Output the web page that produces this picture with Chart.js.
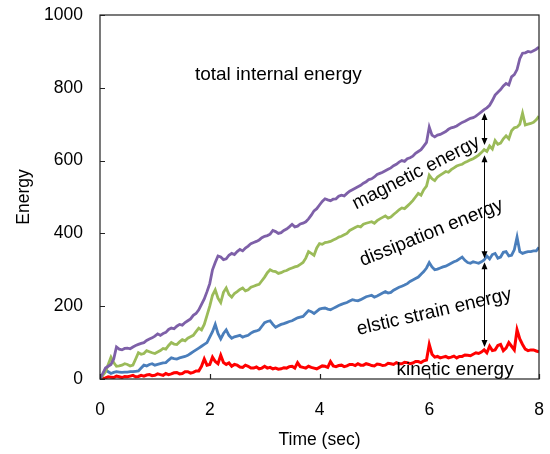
<!DOCTYPE html>
<html>
<head>
<meta charset="utf-8">
<script src="https://cdn.jsdelivr.net/npm/chart.js@4.4.1/dist/chart.umd.min.js"></script>
<style>
  html, body { margin: 0; padding: 0; background: #fff; }
  #wrap { width: 550px; height: 454px; }
</style>
</head>
<body>
<div id="wrap"><canvas id="energy-chart" width="550" height="454"></canvas></div>
<script>
// time axis (sec), every 0.05 s
const times = [
  0, 0.05, 0.1, 0.15, 0.2, 0.25, 0.3, 0.35, 0.4, 0.45, 0.5, 0.55, 0.6, 0.65, 0.7, 0.75, 0.8, 0.85, 0.9, 0.95,
  1, 1.05, 1.1, 1.15, 1.2, 1.25, 1.3, 1.35, 1.4, 1.45, 1.5, 1.55, 1.6, 1.65, 1.7, 1.75, 1.8, 1.85, 1.9, 1.95,
  2, 2.05, 2.1, 2.15, 2.2, 2.25, 2.3, 2.35, 2.4, 2.45, 2.5, 2.55, 2.6, 2.65, 2.7, 2.75, 2.8, 2.85, 2.9, 2.95,
  3, 3.05, 3.1, 3.15, 3.2, 3.25, 3.3, 3.35, 3.4, 3.45, 3.5, 3.55, 3.6, 3.65, 3.7, 3.75, 3.8, 3.85, 3.9, 3.95,
  4, 4.05, 4.1, 4.15, 4.2, 4.25, 4.3, 4.35, 4.4, 4.45, 4.5, 4.55, 4.6, 4.65, 4.7, 4.75, 4.8, 4.85, 4.9, 4.95,
  5, 5.05, 5.1, 5.15, 5.2, 5.25, 5.3, 5.35, 5.4, 5.45, 5.5, 5.55, 5.6, 5.65, 5.7, 5.75, 5.8, 5.85, 5.9, 5.95,
  6, 6.05, 6.1, 6.15, 6.2, 6.25, 6.3, 6.35, 6.4, 6.45, 6.5, 6.55, 6.6, 6.65, 6.7, 6.75, 6.8, 6.85, 6.9, 6.95,
  7, 7.05, 7.1, 7.15, 7.2, 7.25, 7.3, 7.35, 7.4, 7.45, 7.5, 7.55, 7.6, 7.65, 7.7, 7.75, 7.8, 7.85, 7.9, 7.95,
  8
];

// total internal energy (purple)
const totalEnergy = [
  0, 15, 30, 35, 40, 55, 88, 82, 80, 84, 85, 83, 88, 92, 95, 98, 100, 106, 110, 113,
  118, 124, 120, 125, 128, 136, 140, 138, 145, 150, 148, 155, 160, 165, 175, 180, 190, 205, 220, 240,
  262, 300, 320, 338, 335, 328, 330, 340, 345, 342, 350, 356, 352, 360, 365, 372, 375, 378, 382, 388,
  392, 394, 398, 408, 405, 400, 402, 408, 412, 418, 425, 418, 420, 426, 428, 432, 440, 450, 462, 468,
  478, 488, 495, 492, 490, 494, 495, 502, 505, 503, 510, 516, 520, 524, 528, 532, 538, 542, 548, 550,
  555, 562, 565, 568, 572, 576, 580, 586, 590, 596, 600, 598, 605, 608, 612, 620, 625, 630, 640, 650,
  692, 670, 665, 670, 672, 676, 680, 686, 690, 692, 695, 700, 705, 708, 712, 716, 718, 722, 728, 734,
  740, 745, 752, 765, 780, 788, 795, 805, 812, 808, 830, 836, 850, 880, 895, 896, 900, 898, 902, 906,
  912
];

// upper edge of dissipation energy (green)
const dissipationEnergy = [
  0, 10, 20, 40, 60, 45, 35, 36, 38, 42, 40, 36, 38, 55, 72, 68, 70, 78, 75, 72,
  70, 74, 78, 84, 82, 92, 100, 96, 95, 102, 108, 105, 112, 116, 120, 130, 140, 135, 150, 175,
  200, 230, 245, 222, 210, 238, 250, 232, 225, 235, 240, 246, 250, 242, 245, 252, 255, 258, 260, 270,
  280, 292, 300, 296, 295, 290, 292, 296, 298, 302, 305, 308, 310, 315, 320, 332, 350, 345, 340, 360,
  372, 370, 375, 376, 378, 382, 385, 390, 392, 396, 400, 408, 412, 416, 420, 418, 425, 428, 430, 432,
  428, 435, 440, 444, 448, 442, 445, 452, 458, 465, 470, 468, 475, 482, 490, 500, 510, 505, 520, 530,
  560, 550, 545, 555, 560, 565, 570, 568, 575, 580, 585, 588, 590, 595, 598, 602, 605, 610, 615, 622,
  630, 625, 640, 632, 655, 645, 648, 660, 668, 660, 682, 690, 692, 700, 730, 698, 700, 702, 705, 712,
  722
];

// upper edge of elastic strain energy (blue)
const strainEnergy = [
  0, 12, 25, 20, 15, 18, 20, 19, 18, 19, 19, 20, 20, 21, 22, 30, 38, 36, 40, 42,
  38, 40, 42, 44, 45, 52, 58, 56, 55, 58, 60, 62, 65, 70, 75, 80, 85, 90, 95, 100,
  115, 130, 150, 125, 110, 125, 135, 120, 112, 116, 118, 120, 115, 118, 120, 126, 130, 132, 135, 145,
  155, 158, 160, 150, 142, 146, 150, 152, 155, 158, 160, 164, 168, 170, 172, 180, 188, 185, 180, 186,
  192, 194, 195, 192, 190, 194, 198, 202, 205, 208, 210, 214, 218, 216, 215, 218, 222, 226, 228, 230,
  225, 228, 232, 236, 240, 236, 238, 244, 248, 252, 255, 258, 262, 268, 272, 276, 280, 288, 295, 305,
  320, 308, 300, 302, 305, 308, 310, 314, 318, 322, 325, 330, 335, 326, 320, 318, 322, 320, 318, 322,
  327, 338, 330, 342, 345, 332, 335, 348, 350, 338, 340, 355, 390, 350, 345, 348, 350, 350, 352, 352,
  362
];

// kinetic energy (red)
const kineticEnergy = [
  0, 2, 3, 6, 5, 4, 8, 6, 4, 7, 6, 8, 10, 6, 7, 10, 8, 11, 12, 9,
  10, 14, 12, 10, 15, 12, 14, 17, 18, 14, 15, 20, 20, 16, 18, 22, 22, 35, 55, 38,
  40, 60, 48, 42, 65, 45, 40, 44, 35, 40, 38, 33, 32, 38, 35, 30, 30, 33, 28, 30,
  35, 30, 32, 28, 30, 27, 28, 31, 30, 34, 35, 30, 45, 34, 32, 30, 35, 32, 30, 28,
  32, 36, 35, 32, 48, 36, 34, 37, 38, 34, 36, 40, 40, 37, 42, 38, 38, 42, 40, 37,
  36, 41, 40, 37, 38, 43, 42, 40, 45, 42, 42, 46, 45, 42, 44, 48, 48, 45, 50, 52,
  95, 68, 60, 62, 58, 60, 62, 58, 60, 63, 58, 62, 62, 66, 65, 64, 68, 72, 70, 74,
  80, 72, 90, 78, 80, 92, 95, 78, 85, 100, 90, 80, 135, 110, 95, 82, 78, 80, 80, 77,
  75
];

const xTicks = [0, 2, 4, 6, 8];
const yTicks = [0, 200, 400, 600, 800, 1000];

// text labels on the plot
const labelTexts = ["total internal energy", "magnetic energy", "dissipation energy", "elstic strain energy", "kinetic energy"];
const labelTimes = [3.25, 5.76, 6.04, 6.09, 6.47];
const labelValues = [835, 566, 402, 184, 25];
const labelAngles = [0, -27, -22, -13, 0];

// double arrows at t = 7
const arrowTime = 7;
const arrowSpans = [[731, 643], [615, 332], [321, 88]];

const FONT = "'Liberation Sans', Arial, sans-serif";

function toPoints(values) {
  return values.map((v, i) => ({ x: times[i], y: v }));
}

function makeSeries(label, values, color, width) {
  return {
    label,
    data: toPoints(values),
    borderColor: color,
    backgroundColor: color,
    borderWidth: width,
    pointRadius: 0,
    tension: 0,
    fill: false
  };
}

const framePlugin = {
  id: "frame_and_notes",
  afterDraw(chart) {
    const ctx = chart.ctx;
    const a = chart.chartArea;
    const sx = chart.scales.x;
    const sy = chart.scales.y;
    ctx.save();

    // frame
    ctx.strokeStyle = "#222";
    ctx.lineWidth = 1.2;
    ctx.strokeRect(a.left, a.top, a.right - a.left, a.bottom - a.top);

    // inward ticks
    ctx.beginPath();
    yTicks.forEach(v => {
      const y = Math.round(sy.getPixelForValue(v)) + 0.5;
      ctx.moveTo(a.left, y);
      ctx.lineTo(a.left + 5, y);
    });
    xTicks.forEach(v => {
      const x = Math.round(sx.getPixelForValue(v)) + 0.5;
      ctx.moveTo(x, a.bottom);
      ctx.lineTo(x, a.bottom - 5);
    });
    ctx.stroke();

    // labels
    ctx.fillStyle = "#000";
    ctx.font = "19px " + FONT;
    ctx.textAlign = "center";
    ctx.textBaseline = "middle";
    labelTexts.forEach((t, i) => {
      ctx.save();
      ctx.translate(sx.getPixelForValue(labelTimes[i]), sy.getPixelForValue(labelValues[i]));
      ctx.rotate(labelAngles[i] * Math.PI / 180);
      ctx.fillText(t, 0, 0);
      ctx.restore();
    });

    // arrows
    const ax = Math.round(sx.getPixelForValue(arrowTime)) + 0.5;
    ctx.strokeStyle = "#000";
    ctx.lineWidth = 1;
    arrowSpans.forEach(([hi, lo]) => {
      const y1 = sy.getPixelForValue(hi);
      const y2 = sy.getPixelForValue(lo);
      ctx.beginPath();
      ctx.moveTo(ax, y1 + 3);
      ctx.lineTo(ax, y2 - 3);
      ctx.stroke();
      ctx.beginPath();
      ctx.moveTo(ax, y1);
      ctx.lineTo(ax - 3, y1 + 7);
      ctx.lineTo(ax + 3, y1 + 7);
      ctx.closePath();
      ctx.fill();
      ctx.beginPath();
      ctx.moveTo(ax, y2);
      ctx.lineTo(ax - 3, y2 - 7);
      ctx.lineTo(ax + 3, y2 - 7);
      ctx.closePath();
      ctx.fill();
    });
    ctx.restore();
  }
};

const hiddenGrid = { display: true, drawOnChartArea: false, drawTicks: true, color: "rgba(0,0,0,0)" };

new Chart(document.getElementById("energy-chart").getContext("2d"), {
  type: "line",
  data: {
    datasets: [
      makeSeries("total internal energy", totalEnergy, "#7E60A8", 2.8),
      makeSeries("dissipation", dissipationEnergy, "#9BBB59", 2.8),
      makeSeries("elastic strain", strainEnergy, "#4A7EBB", 2.8),
      makeSeries("kinetic energy", kineticEnergy, "#FF0000", 3)
    ]
  },
  options: {
    responsive: false,
    animation: false,
    events: [],
    layout: { padding: { top: 15, right: 11, left: 0, bottom: 0 } },
    plugins: {
      legend: { display: false },
      tooltip: { enabled: false }
    },
    scales: {
      x: {
        type: "linear",
        min: 0,
        max: 8,
        afterFit: (s) => { s.height = 75; },
        afterBuildTicks: (s) => { s.ticks = xTicks.map(v => ({ value: v })); },
        grid: Object.assign({ tickLength: 21 }, hiddenGrid),
        border: { display: false },
        ticks: { color: "#000", font: { family: FONT, size: 17.5 }, padding: 0, maxRotation: 0, callback: (v) => String(v) },
        title: { display: true, text: "Time (sec)", color: "#000", font: { family: FONT, size: 17.5 }, padding: { top: 4, bottom: 3 } }
      },
      y: {
        type: "linear",
        min: 0,
        max: 1000,
        afterFit: (s) => { s.width = 100; },
        afterBuildTicks: (s) => { s.ticks = yTicks.map(v => ({ value: v })); },
        grid: Object.assign({ tickLength: 17 }, hiddenGrid),
        border: { display: false },
        ticks: { color: "#000", font: { family: FONT, size: 17.5 }, padding: 0, callback: (v) => String(v) },
        title: { display: true, text: "Energy", color: "#000", font: { family: FONT, size: 17.5 }, padding: { top: 14, bottom: 0 } }
      }
    }
  },
  plugins: [framePlugin]
});
</script>
</body>
</html>
